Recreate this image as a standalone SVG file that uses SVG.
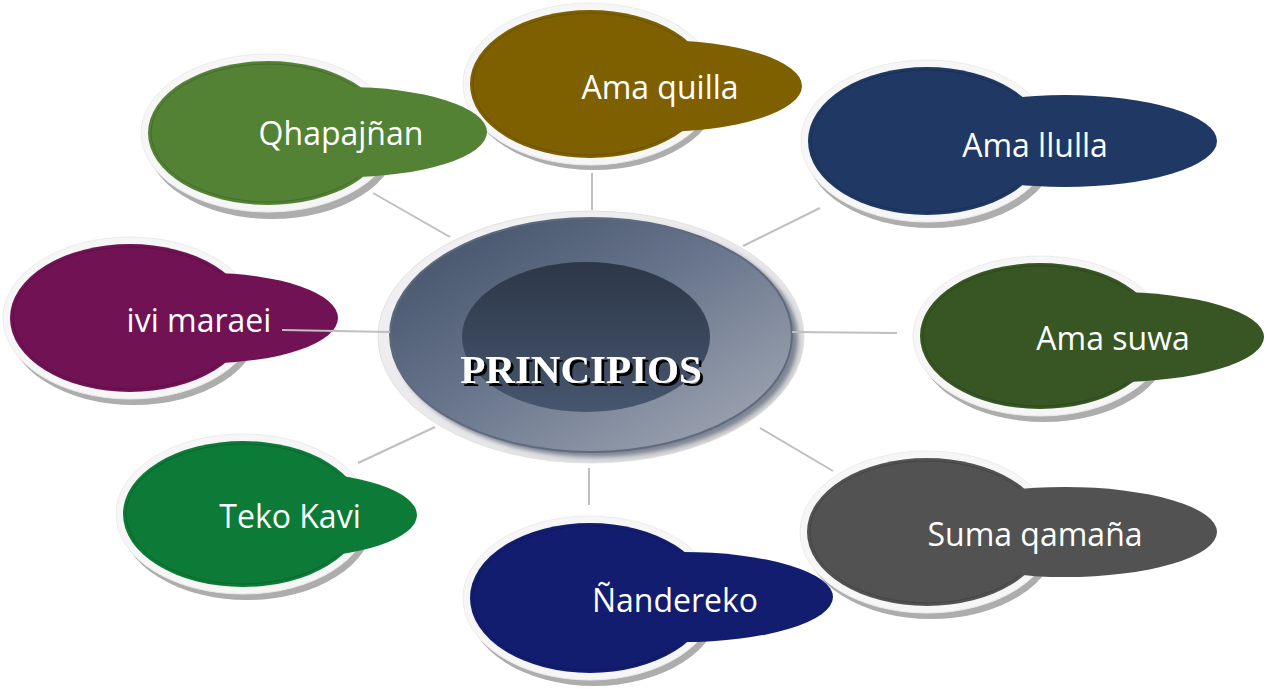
<svg xmlns="http://www.w3.org/2000/svg" width="1267" height="689" viewBox="0 0 1267 689">
  <defs>
    <linearGradient id="mainGrad" x1="0" y1="0" x2="1" y2="1">
      <stop offset="0" stop-color="#3F4E65"/>
      <stop offset="0.45" stop-color="#66738A"/>
      <stop offset="1" stop-color="#A7ADB8"/>
    </linearGradient>
    <linearGradient id="innerGrad" x1="0" y1="0" x2="0" y2="1">
      <stop offset="0" stop-color="#2D3748"/>
      <stop offset="1" stop-color="#46566E"/>
    </linearGradient>
    <linearGradient id="ringGrad" x1="0" y1="0" x2="1" y2="1">
      <stop offset="0" stop-color="#F4F4F6"/>
      <stop offset="0.6" stop-color="#E6E6E8"/>
      <stop offset="1" stop-color="#C8C8CA"/>
    </linearGradient>
    <filter id="blur2" x="-10%" y="-10%" width="120%" height="120%">
      <feGaussianBlur stdDeviation="2"/>
    </filter>
    <filter id="textShadow" x="-10%" y="-20%" width="120%" height="150%">
      <feOffset in="SourceAlpha" dx="3" dy="3" result="off"/>
      <feFlood flood-color="#000000" result="col"/>
      <feComposite in="col" in2="off" operator="in" result="sh"/>
      <feMerge>
        <feMergeNode in="sh"/>
        <feMergeNode in="SourceGraphic"/>
      </feMerge>
    </filter>
  </defs>
  <style>
    .shadow { fill: #ADADAD; }
    .ring { fill: #F6F6F6; stroke: #ECECEC; stroke-width: 1; }
    .outline { fill: none; stroke: #000000; stroke-opacity: 0.25; stroke-width: 0.7; }
    .lbl { font-family: "Open Sans", "Liberation Sans", sans-serif; font-size: 32px; fill: #FFFFFF; text-anchor: middle; }
    .conn line { stroke: #BFBFBF; stroke-width: 2; }
    .title { font-family: "Liberation Serif", "Times New Roman", serif; font-weight: bold; font-size: 41px; text-anchor: middle; fill: #FFFFFF; }
  </style>

  <rect x="0" y="0" width="1267" height="689" fill="#FFFFFF"/>

  <!-- Center node -->
  <g id="node-principios">
    <ellipse cx="591" cy="337" rx="213" ry="126" fill="url(#ringGrad)" stroke="#E2E2E4" stroke-width="1"/>
    <ellipse cx="596" cy="339" rx="202" ry="118" fill="#7E8593" filter="url(#blur2)"/>
    <ellipse cx="591" cy="335" rx="201" ry="117" fill="url(#mainGrad)" stroke="#5E6B7F" stroke-width="2"/>
    <ellipse cx="586" cy="337" rx="124" ry="75" fill="url(#innerGrad)"/>
    <text class="title" x="581" y="383" filter="url(#textShadow)">PRINCIPIOS</text>
  </g>

  <!-- Ama quilla -->
  <g id="node-ama-quilla">
    <ellipse class="shadow" cx="594" cy="90" rx="126" ry="80"/>
    <ellipse class="ring" cx="590" cy="84" rx="127" ry="81"/>
    <ellipse cx="590" cy="84" rx="120" ry="74" fill="#7F6000"/>
    <ellipse class="outline" cx="590" cy="84" rx="117" ry="71"/>
    <ellipse cx="657" cy="86" rx="145" ry="46" fill="#7F6000"/>
    <text class="lbl" x="660" y="99">Ama quilla</text>
  </g>

  <!-- Qhapajñan -->
  <g id="node-qhapajnan">
    <ellipse class="shadow" cx="272" cy="140" rx="126" ry="79"/>
    <ellipse class="ring" cx="268" cy="133" rx="127" ry="79"/>
    <ellipse cx="268" cy="133" rx="120" ry="72" fill="#548235"/>
    <ellipse class="outline" cx="268" cy="133" rx="117" ry="69"/>
    <ellipse cx="345" cy="132" rx="142" ry="45" fill="#548235"/>
    <text class="lbl" x="341" y="145">Qhapajñan</text>
  </g>

  <!-- Ama llulla -->
  <g id="node-ama-llulla">
    <ellipse class="shadow" cx="931" cy="148" rx="126" ry="80"/>
    <ellipse class="ring" cx="927" cy="141" rx="126" ry="81"/>
    <ellipse cx="927" cy="141" rx="119" ry="74" fill="#203864"/>
    <ellipse class="outline" cx="927" cy="141" rx="116" ry="71"/>
    <ellipse cx="1065" cy="141" rx="152" ry="46" fill="#203864"/>
    <text class="lbl" x="1035" y="157">Ama llulla</text>
  </g>

  <!-- Ama suwa -->
  <g id="node-ama-suwa">
    <ellipse class="shadow" cx="1044" cy="343" rx="126" ry="79"/>
    <ellipse class="ring" cx="1040" cy="336" rx="127" ry="80"/>
    <ellipse cx="1040" cy="336" rx="120" ry="73" fill="#375623"/>
    <ellipse class="outline" cx="1040" cy="336" rx="117" ry="70"/>
    <ellipse cx="1113" cy="337" rx="151" ry="45" fill="#375623"/>
    <text class="lbl" x="1113" y="350">Ama suwa</text>
  </g>

  <!-- Suma qamaña -->
  <g id="node-suma-qamana">
    <ellipse class="shadow" cx="931" cy="539" rx="126" ry="80"/>
    <ellipse class="ring" cx="927" cy="532" rx="127" ry="81"/>
    <ellipse cx="927" cy="532" rx="120" ry="74" fill="#525252"/>
    <ellipse class="outline" cx="927" cy="532" rx="117" ry="71"/>
    <ellipse cx="1065" cy="532" rx="152" ry="45" fill="#525252"/>
    <text class="lbl" x="1035" y="546">Suma qamaña</text>
  </g>

  <!-- Ñandereko -->
  <g id="node-nandereko">
    <ellipse class="shadow" cx="594" cy="605" rx="126" ry="81"/>
    <ellipse class="ring" cx="590" cy="598" rx="127" ry="82"/>
    <ellipse cx="590" cy="598" rx="120" ry="75" fill="#131D6F"/>
    <ellipse class="outline" cx="590" cy="598" rx="117" ry="72"/>
    <ellipse cx="683" cy="597" rx="150" ry="45" fill="#131D6F"/>
    <text class="lbl" x="675" y="612">Ñandereko</text>
  </g>

  <!-- Teko Kavi -->
  <g id="node-teko-kavi">
    <ellipse class="shadow" cx="247" cy="521" rx="126" ry="79"/>
    <ellipse class="ring" cx="243" cy="514" rx="127" ry="80"/>
    <ellipse cx="243" cy="514" rx="120" ry="73" fill="#0C7B37"/>
    <ellipse class="outline" cx="243" cy="514" rx="117" ry="70"/>
    <ellipse cx="287" cy="515" rx="130" ry="43" fill="#0C7B37"/>
    <text class="lbl" x="290" y="528">Teko Kavi</text>
  </g>

  <!-- ivi maraei -->
  <g id="node-ivi-maraei">
    <ellipse class="shadow" cx="134" cy="325" rx="126" ry="80"/>
    <ellipse class="ring" cx="130" cy="318" rx="127" ry="81"/>
    <ellipse cx="130" cy="318" rx="120" ry="74" fill="#711255"/>
    <ellipse class="outline" cx="130" cy="318" rx="117" ry="71"/>
    <ellipse cx="208" cy="318" rx="130" ry="45" fill="#711255"/>
    <text class="lbl" x="199" y="332">ivi maraei</text>
  </g>

  <!-- Connectors -->
  <g id="connectors" class="conn">
    <line x1="592" y1="173" x2="592" y2="210"/>
    <line x1="373" y1="193" x2="450" y2="237"/>
    <line x1="743" y1="246" x2="820" y2="208"/>
    <line x1="792" y1="332" x2="897" y2="333"/>
    <line x1="760" y1="428" x2="833" y2="471"/>
    <line x1="589" y1="468" x2="589" y2="505"/>
    <line x1="435" y1="427" x2="358" y2="463"/>
    <line x1="282" y1="330" x2="390" y2="332"/>
  </g>
</svg>
